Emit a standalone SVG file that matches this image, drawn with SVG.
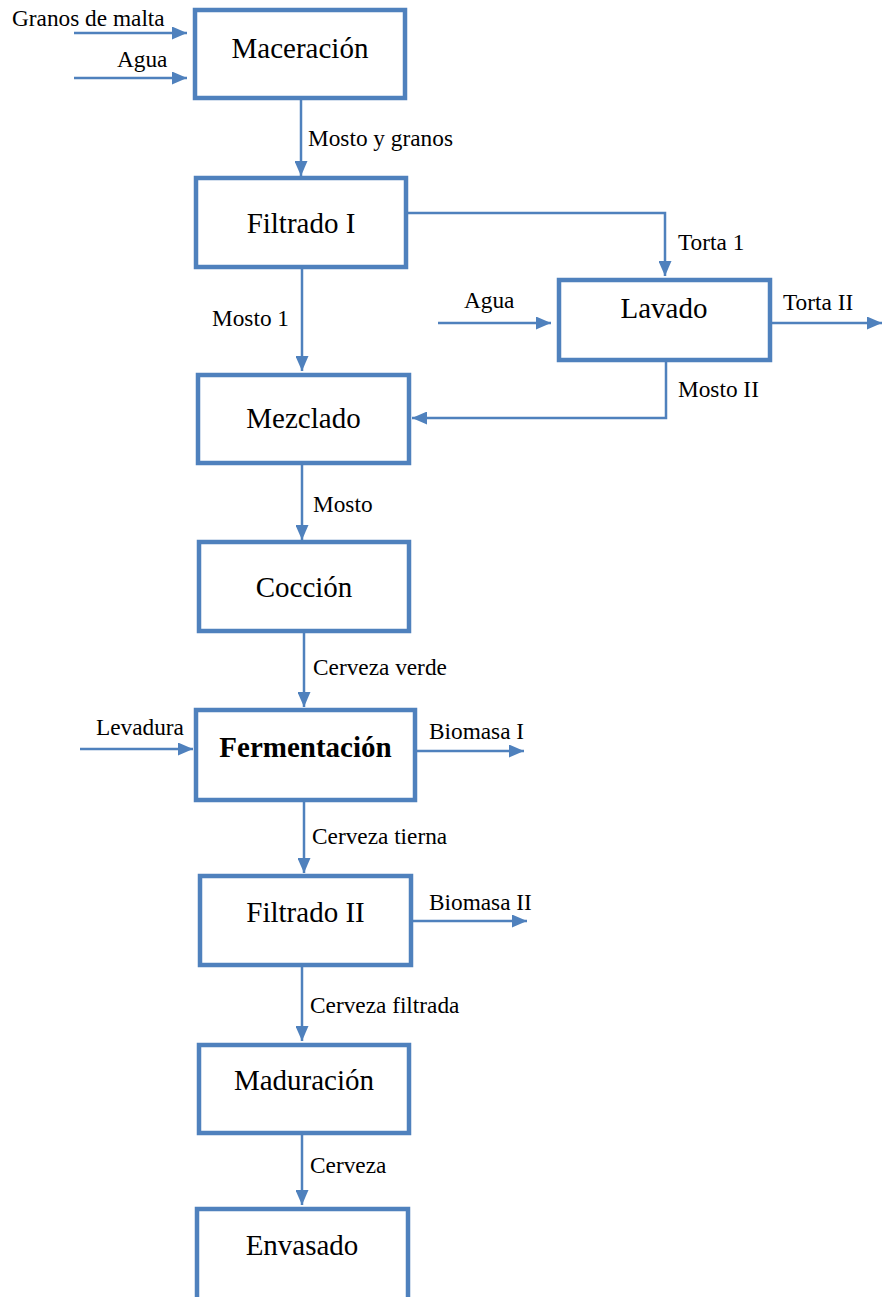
<svg xmlns="http://www.w3.org/2000/svg" width="883" height="1297" viewBox="0 0 883 1297">
<style>
.box{fill:#fff;stroke:#4F81BD;stroke-width:4.5}
.node{font-family:"Liberation Serif","Times New Roman",serif;font-size:29px;fill:#000;text-anchor:middle}
.lbl{font-family:"Liberation Serif","Times New Roman",serif;font-size:23.3px;fill:#000}
.c{fill:none;stroke:#4F81BD;stroke-width:2.5}
</style>
<defs>
<marker id="ah" markerUnits="userSpaceOnUse" markerWidth="15" markerHeight="13" refX="15" refY="6.5" orient="auto">
<path d="M0,0 L15,6.5 L0,13 z" fill="#4F81BD"/>
</marker>
</defs>
<rect width="883" height="1297" fill="#fff"/>
<g id="connectors">
<line class="c" x1="74" y1="33" x2="187" y2="33" marker-end="url(#ah)"/>
<line class="c" x1="74" y1="78" x2="187" y2="78" marker-end="url(#ah)"/>
<line class="c" x1="301" y1="100" x2="301" y2="176" marker-end="url(#ah)"/>
<path class="c" d="M408,213 H665 V276" marker-end="url(#ah)"/>
<line class="c" x1="302" y1="269" x2="302" y2="371" marker-end="url(#ah)"/>
<line class="c" x1="438" y1="323" x2="551" y2="323" marker-end="url(#ah)"/>
<line class="c" x1="772" y1="323" x2="882" y2="323" marker-end="url(#ah)"/>
<path class="c" d="M666,362 V418 H412" marker-end="url(#ah)"/>
<line class="c" x1="302" y1="465" x2="302" y2="540" marker-end="url(#ah)"/>
<line class="c" x1="304" y1="633" x2="304" y2="707" marker-end="url(#ah)"/>
<line class="c" x1="80" y1="749" x2="193" y2="749" marker-end="url(#ah)"/>
<line class="c" x1="417" y1="751" x2="524" y2="751" marker-end="url(#ah)"/>
<line class="c" x1="304" y1="802" x2="304" y2="873" marker-end="url(#ah)"/>
<line class="c" x1="413" y1="921" x2="527" y2="921" marker-end="url(#ah)"/>
<line class="c" x1="302" y1="967" x2="302" y2="1041" marker-end="url(#ah)"/>
<line class="c" x1="302" y1="1135" x2="302" y2="1205" marker-end="url(#ah)"/>
</g>
<g id="labels">
<text class="lbl" x="12" y="26">Granos de malta</text>
<text class="lbl" x="117" y="67">Agua</text>
<text class="lbl" x="308" y="146">Mosto y granos</text>
<text class="lbl" x="678" y="250">Torta 1</text>
<text class="lbl" x="212" y="326">Mosto 1</text>
<text class="lbl" x="464" y="308">Agua</text>
<text class="lbl" x="783" y="310">Torta II</text>
<text class="lbl" x="678" y="397">Mosto II</text>
<text class="lbl" x="313" y="512">Mosto</text>
<text class="lbl" x="313" y="675">Cerveza verde</text>
<text class="lbl" x="96" y="735">Levadura</text>
<text class="lbl" x="429" y="739">Biomasa I</text>
<text class="lbl" x="312" y="844">Cerveza tierna</text>
<text class="lbl" x="429" y="910">Biomasa II</text>
<text class="lbl" x="310" y="1013">Cerveza filtrada</text>
<text class="lbl" x="310" y="1173">Cerveza</text>
</g>
<g id="maceracion"><rect class="box" x="195" y="10" width="210" height="88"/><text class="node" x="300" y="58">Maceración</text></g>
<g id="filtrado1"><rect class="box" x="196" y="178" width="210" height="89"/><text class="node" x="301" y="233">Filtrado I</text></g>
<g id="lavado"><rect class="box" x="559" y="280" width="211" height="80"/><text class="node" x="664" y="318">Lavado</text></g>
<g id="mezclado"><rect class="box" x="198" y="375" width="211" height="88"/><text class="node" x="303.5" y="428">Mezclado</text></g>
<g id="coccion"><rect class="box" x="199" y="542" width="210" height="89"/><text class="node" x="304" y="597">Cocción</text></g>
<g id="fermentacion"><rect class="box" x="196" y="710" width="219" height="90"/><text class="node" x="305.5" y="757" font-weight="bold">Fermentación</text></g>
<g id="filtrado2"><rect class="box" x="200" y="876" width="211" height="89"/><text class="node" x="305.5" y="922">Filtrado II</text></g>
<g id="maduracion"><rect class="box" x="199" y="1045" width="210" height="88"/><text class="node" x="304" y="1090">Maduración</text></g>
<g id="envasado"><rect class="box" x="197" y="1209" width="211" height="110"/><text class="node" x="302" y="1255">Envasado</text></g>
</svg>
